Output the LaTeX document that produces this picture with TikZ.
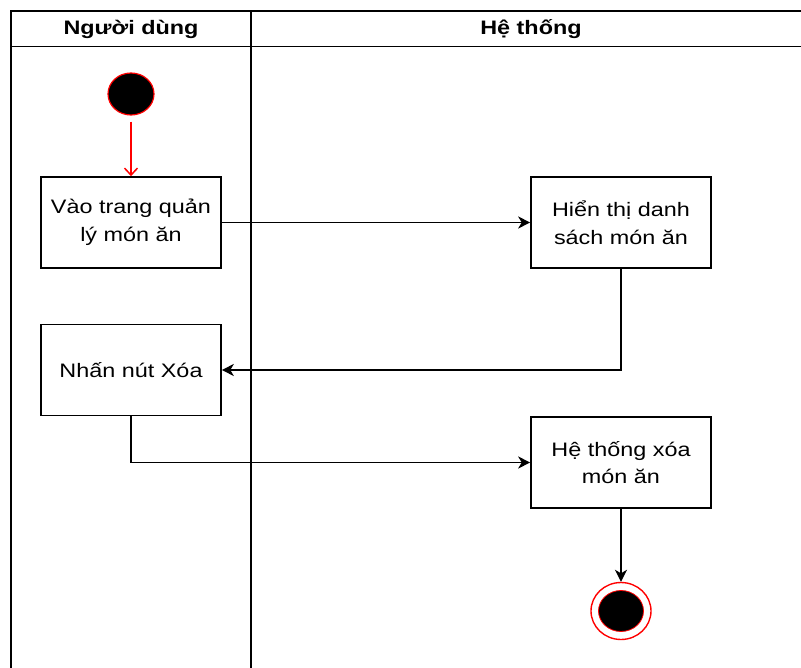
\documentclass[tikz,border=0pt]{standalone}
\usepackage{fontspec}
\setmainfont{Liberation Sans}[FakeStretch=1.2]
\usetikzlibrary{arrows.meta,shapes.geometric}
\begin{document}
\begin{tikzpicture}[x=1pt,y=-1pt,
  lane/.style={draw=black,line width=1.6pt},
  act/.style={draw=black,line width=1.6pt,fill=white,minimum width=180pt,minimum height=91pt,inner sep=0pt,align=center,font=\fontsize{19.5pt}{27.5pt}\selectfont},
  hdr/.style={font=\fontsize{19.5pt}{24pt}\selectfont\bfseries,inner sep=0pt},
  flow/.style={draw=black,line width=1.6pt,-{Stealth[length=12pt,width=12pt,inset=3.5pt]}},
  redflow/.style={draw=red,line width=1.5pt,-{Straight Barb[length=7pt,width=13pt]}}]
\useasboundingbox (0,0) rectangle (801,668);
% swimlanes
\draw[lane] (11,680) -- (11,11) -- (815,11);
\draw[lane] (11,46.5) -- (815,46.5);
\draw[lane] (251,11) -- (251,680);
\node[hdr] (h1) at (131,29) {Người dùng};
\node[hdr] (h2) at (531,29) {Hệ thống};
% start
\node[draw=red,fill=black,line width=1.2pt,ellipse,minimum width=46pt,minimum height=42pt,inner sep=0pt] (start) at (131,94) {};
% activities
\node[act] (b1) at (131,222.5) {Vào trang quản\\lý món ăn};
\node[act] (b2) at (621,222.5) {Hiển thị danh\\sách món ăn};
\node[act] (b3) at (131,370) {Nhấn nút Xóa};
\node[act] (b4) at (621,462.5) {Hệ thống xóa\\món ăn};
% end
\node[draw=red,fill=white,line width=1.4pt,ellipse,minimum width=60pt,minimum height=57pt,inner sep=0pt] (end) at (621,611) {};
\node[draw=red,fill=black,line width=0.8pt,ellipse,minimum width=45pt,minimum height=41pt,inner sep=0pt] (endin) at (621,611) {};
% connectors
\draw[redflow,shorten <=6pt] (start) -- (b1);
\draw[flow] (b1) -- (b2);
\draw[flow] (b2.south) |- (b3.east);
\draw[flow] (b3.south) |- (b4.west);
\draw[flow] (b4.south) -- (end.north);
\end{tikzpicture}
\end{document}
